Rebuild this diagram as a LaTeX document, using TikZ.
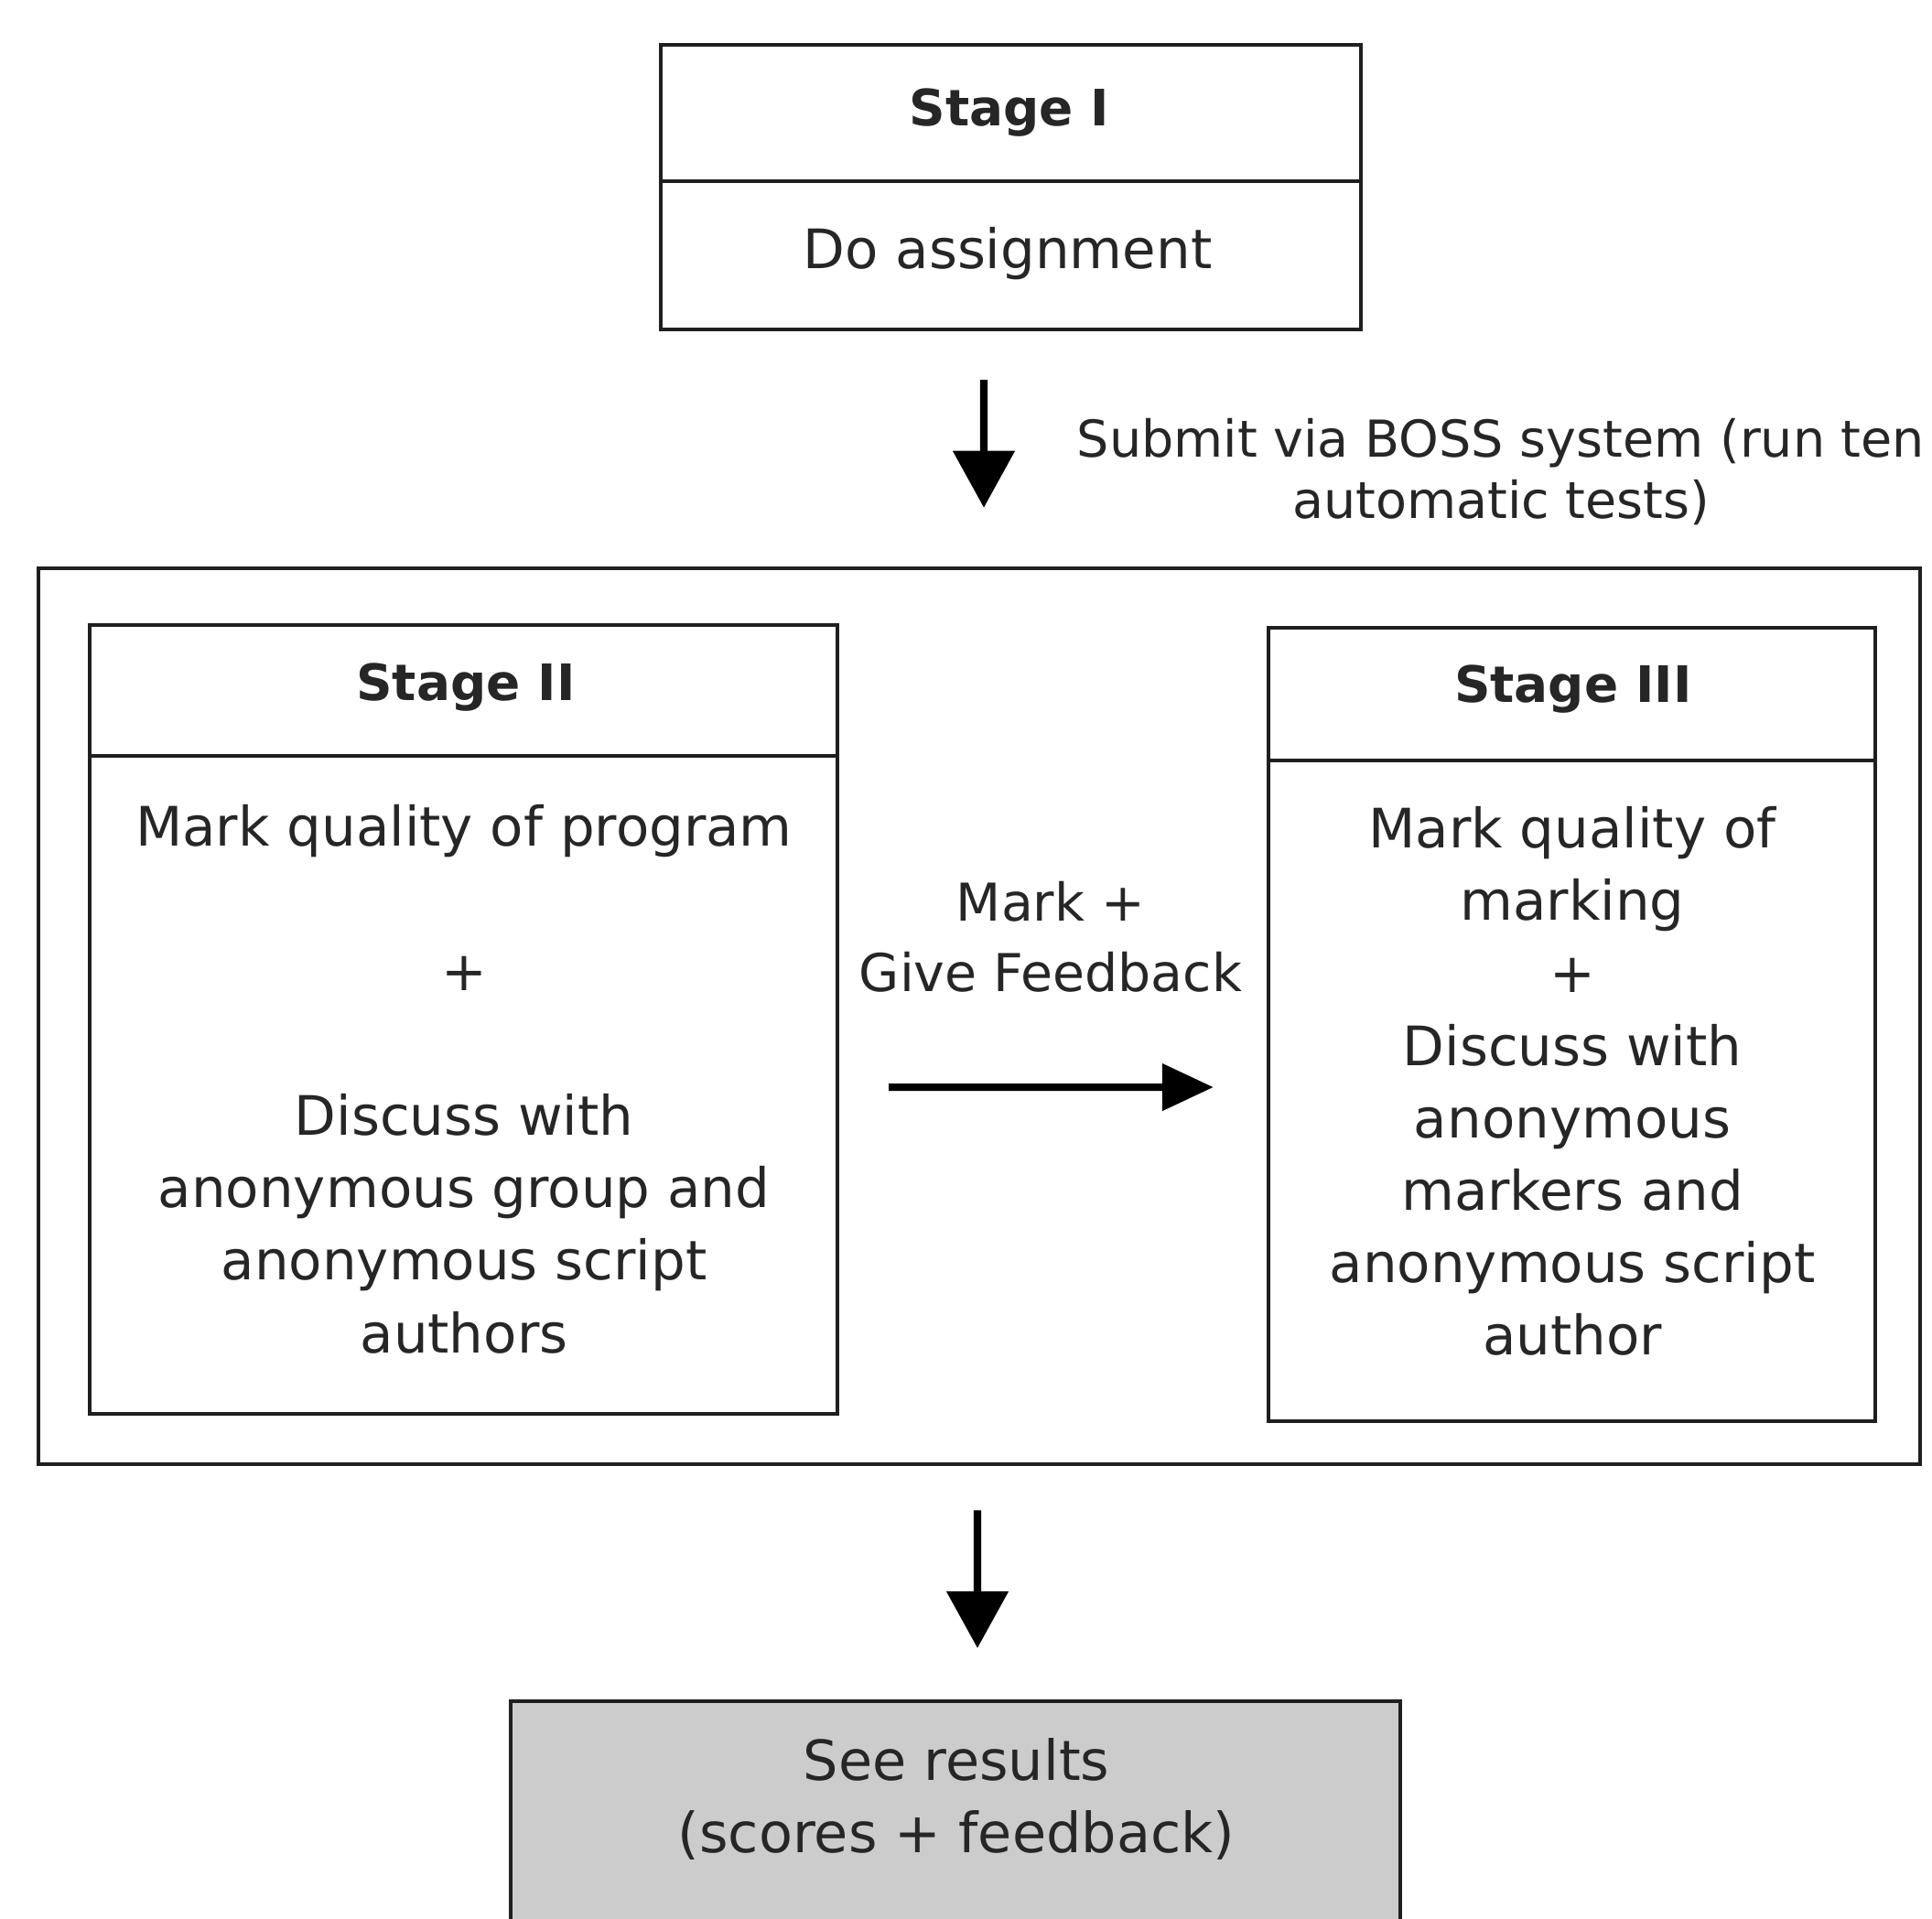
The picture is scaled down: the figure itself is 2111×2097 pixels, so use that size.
\documentclass[tikz,border=0pt]{standalone}
\usepackage{fontspec}
\setmainfont{DejaVu Sans}
\usetikzlibrary{arrows.meta}
\definecolor{ink}{gray}{0.15}
\definecolor{edge}{gray}{0.12}
\definecolor{shade}{gray}{0.8}

\begin{document}
\begin{tikzpicture}[x=0.01cm,y=-0.01cm,
  box/.style={draw=edge, line width=1.1pt, inner sep=0pt, rectangle},
  divider/.style={draw=edge, line width=1.1pt},
  title/.style={font=\bfseries\fontsize{15.6}{19}\selectfont, text=ink, inner sep=0pt},
  body/.style={font=\fontsize{16.9}{22.5}\selectfont, text=ink, align=center, inner sep=0pt},
  note/.style={font=\fontsize{16}{19}\selectfont, text=ink, align=center, inner sep=0pt},
  arr/.style={draw=black, line width=2.3pt, -{Triangle[length=0.62cm, width=0.66cm]}},
]
\useasboundingbox (0,0) rectangle (2111,2097);
\clip (0,0) rectangle (2111,2097);
\fill[white] (0,0) rectangle (2111,2097);

% Stage I
\node[box, minimum width=7.65cm, minimum height=3.11cm] (s1) at (1104.5,204.5) {};
\draw[divider] (s1.west |- 0,198) -- (s1.east |- 0,198);
\node[title] (s1t) at (1103,123.5) {Stage I};
\node[body] (s1b) at (1101,277.5) {Do assignment};

% Outer frame holding stages II and III
\node[box, minimum width=20.54cm, minimum height=9.79cm] (outer) at (1070,1110.5) {};

% Stage II
\node[box, minimum width=8.17cm, minimum height=8.62cm] (s2) at (506.5,1114) {};
\draw[divider] (s2.west |- 0,826) -- (s2.east |- 0,826);
\node[title] (s2t) at (509,751.5) {Stage II};
\node[body] (s2b) at (507,1179) {Mark quality of program\\ ~\\ +\\ ~\\ Discuss with\\ anonymous group and\\ anonymous script\\ authors};

% Stage III
\node[box, minimum width=6.63cm, minimum height=8.67cm] (s3) at (1717.5,1119.5) {};
\draw[divider] (s3.west |- 0,831) -- (s3.east |- 0,831);
\node[title] (s3t) at (1719,753.5) {Stage III};
\node[body] (s3b) at (1718,1181.5) {Mark quality of\\ marking\\ +\\ Discuss with\\ anonymous\\ markers and\\ anonymous script\\ author};

% Results
\node[box, fill=shade, minimum width=9.72cm, minimum height=2.81cm] (res) at (1044,1999.5) {};
\node[body, font=\fontsize{17.2}{22.5}\selectfont] (rest) at (1045,1966) {See results\\ (scores + feedback)};

% Connectors
\draw[arr] ([xshift=-0.295cm, yshift=-0.53cm]s1.south) -- ([xshift=0.05cm, yshift=0.64cm]outer.north);
\node[note, font=\fontsize{15.8}{19}\selectfont] (submit) at (1640,515.5) {Submit via BOSS system (run ten\\ automatic tests)};

\draw[arr, -{Triangle[length=0.56cm, width=0.5cm]}] ([xshift=0.54cm, yshift=-0.74cm]s2.east) -- ([xshift=-0.58cm, yshift=-0.685cm]s3.west);
\node[note, font=\fontsize{16.2}{21.9}\selectfont] (mark) at (1148,1024) {Mark +\\ Give Feedback};

\draw[arr] ([xshift=-0.02cm, yshift=-0.48cm]outer.south) -- ([xshift=0.24cm, yshift=0.56cm]res.north);
\end{tikzpicture}
\end{document}
